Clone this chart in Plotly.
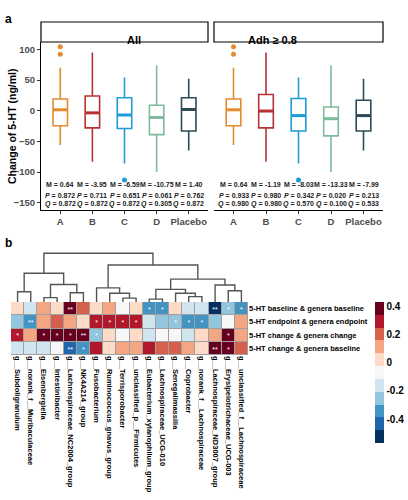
import plotly.graph_objects as go

# ---------------- Panel a data ----------------
groups = ["A", "B", "C", "D", "Placebo"]
box_colors = ["#E58A2E", "#B83235", "#1F9BD7", "#7DBB9C", "#2D4A57"]

all_upper = [70, 95, 54, 74, 52]
all_q3 = [19, 24, 21, 9, 21]
all_median = [1.5, -3.5, -7, -11, 2]
all_q1 = [-24.5, -28, -29, -39, -33]
all_lower = [-56, -83, -86, -100, -65]
all_outliers = [[104, 92], [], [-113], [], []]
all_M = [0.64, -3.95, -6.59, -10.75, 1.40]
all_P = [0.872, 0.711, 0.651, 0.061, 0.762]
all_Q = [0.872, 0.872, 0.872, 0.305, 0.872]

adh_upper = [70, 95, 54, 74, 52]
adh_q3 = [19, 26.5, 20, 6, 17]
adh_median = [1.5, -0.5, -8, -13, -8]
adh_q1 = [-24.5, -28, -33, -41, -33]
adh_lower = [-56, -83, -86, -100, -65]
adh_outliers = [[104, 92], [], [-113], [], []]
adh_M = [0.64, -1.19, -8.03, -13.33, -7.99]
adh_P = [0.933, 0.980, 0.342, 0.020, 0.213]
adh_Q = [0.980, 0.980, 0.570, 0.100, 0.533]

y_ticks = [-150, -100, -50, 0, 50, 100]

# ---------------- Panel b data ----------------
genera = [
    "g__Subdoligranulum", "g__norank_f__Muribaculaceae", "g__Eisenbergiella",
    "g__Intestinibacter", "g__Lachnospiraceae_NC2004_group", "g__NK4A214_group",
    "g__Fusobacterium", "g__Ruminococcus_gnavus_group", "g__Terrisporobacter",
    "g__unclassified_p__Firmicutes", "g__Eubacterium_xylanophilum_group",
    "g__Lachnospiraceae_UCG-010", "g__Senegalimassilia", "g__Coprobacter",
    "g__norank_f__Lachnospiraceae", "g__Lachnospiraceae_ND3007_group",
    "g__Erysipelotrichaceae_UCG-003", "g__unclassified_f__Lachnospiraceae",
]
row_names = [
    "5-HT baseline & genera baseline",
    "5-HT endpoint & genera endpoint",
    "5-HT change & genera change",
    "5-HT change & genera baseline",
]
corr = [
    [0.02, -0.16, 0.11, 0.03, 0.39, 0.21, 0.02, 0.12, -0.07, 0.03, -0.34, -0.33, 0.02, -0.15, -0.16, -0.52, -0.25, -0.34],
    [-0.25, -0.35, 0.11, 0.20, 0.11, 0.03, 0.29, 0.30, 0.29, 0.30, -0.16, -0.25, -0.26, -0.34, -0.35, -0.25, -0.07, 0.11],
    [0.29, 0.12, 0.39, 0.38, 0.39, 0.40, -0.25, 0.02, -0.07, 0.03, -0.16, -0.07, -0.06, -0.16, 0.03, 0.12, 0.39, 0.11],
    [-0.15, -0.16, -0.16, -0.07, -0.43, -0.34, 0.29, 0.03, 0.11, 0.12, 0.30, 0.20, 0.21, 0.11, 0.02, 0.38, 0.39, 0.20],
]
signif = [
    ["", "", "", "", "**", "", "", "", "", "", "*", "*", "", "", "", "**", "*", "*"],
    ["", "**", "", "", "", "", "*", "*", "*", "*", "", "", "*", "*", "*", "", "", ""],
    ["*", "", "*", "*", "*", "**", "*", "", "", "", "", "", "", "", "", "", "*", ""],
    ["", "", "", "", "**", "*", "", "", "", "", "", "", "", "", "", "**", "*", ""],
]
# hierarchical clustering of columns: (left node, right node, height)
dendro_merges = [
    (0, 1, 0.21), (2, 3, 0.09), (4, 5, 0.19), (19, 20, 0.36), (18, 21, 0.59),
    (8, 9, 0.08), (7, 23, 0.18), (6, 24, 0.29),
    (10, 11, 0.06), (13, 14, 0.11), (12, 27, 0.18), (26, 28, 0.26),
    (16, 17, 0.23), (15, 30, 0.35), (29, 31, 0.47), (25, 32, 0.76), (22, 33, 1.00),
]
band_colors = ["#053061", "#2166AC", "#4393C3", "#92C5DE", "#D1E5F0", "#F7F7F7",
               "#FDDBC7", "#F4A582", "#D6604D", "#B2182B", "#67001F"]
z_min, z_max = -0.57, 0.43
cbar_ticks = [-0.4, -0.2, 0, 0.2, 0.4]

FONT = "Arial, Liberation Sans, sans-serif"
W, H = 408, 500


def px(x):
    return x / W


def py(y):
    return 1 - y / H


fig = go.Figure()

# ---------------- Panel a: box plots ----------------
panels = [
    ("x", "y", all_upper, all_q3, all_median, all_q1, all_lower, all_outliers, all_M, all_P, all_Q),
    ("x2", "y2", adh_upper, adh_q3, adh_median, adh_q1, adh_lower, adh_outliers, adh_M, adh_P, adh_Q),
]
BW = 0.45
annotations = []
for xa, ya, up, q3, med, q1, lo, outl, M, P, Q in panels:
    for i, g in enumerate(groups):
        c = box_colors[i]
        fig.add_trace(go.Box(
            x=[i], q1=[q1[i]], median=[med[i]], q3=[q3[i]],
            lowerfence=[lo[i]], upperfence=[up[i]],
            width=BW, whiskerwidth=0, fillcolor="white",
            line=dict(color=c, width=1.6), boxpoints=False,
            xaxis=xa, yaxis=ya, showlegend=False, hoverinfo="skip",
        ))
        fig.add_trace(go.Scatter(
            x=[i - BW / 2, i + BW / 2], y=[med[i], med[i]], mode="lines",
            line=dict(color=c, width=3), xaxis=xa, yaxis=ya,
            showlegend=False, hoverinfo="skip",
        ))
        if outl[i]:
            fig.add_trace(go.Scatter(
                x=[i] * len(outl[i]), y=outl[i], mode="markers",
                marker=dict(color=c, size=5), xaxis=xa, yaxis=ya,
                showlegend=False, hoverinfo="skip",
            ))
        for txt, yy in [(f"<b>M = {M[i]:.2f}</b>", -119.5),
                        (f"<b><i>P</i> = {P[i]:.3f}</b>", -137.5),
                        (f"<b><i>Q</i> = {Q[i]:.3f}</b>", -152)]:
            annotations.append(dict(
                x=i, y=yy, xref=xa, yref=ya, text=txt, showarrow=False,
                font=dict(family=FONT, size=7, color="#222222"),
                xanchor="center", yanchor="middle",
            ))

# ---------------- Panel b: dendrogram ----------------
n = len(genera)
pos = {i: (float(i), 0.0) for i in range(n)}
dx, dy = [], []
for k, (a, b, h) in enumerate(dendro_merges):
    xa_, ha = pos[a]
    xb_, hb = pos[b]
    dx += [xa_, xa_, xb_, xb_, None]
    dy += [ha, h, h, hb, None]
    pos[n + k] = ((xa_ + xb_) / 2, h)
fig.add_trace(go.Scatter(
    x=dx, y=dy, mode="lines", line=dict(color="#555555", width=1.4),
    xaxis="x4", yaxis="y4", showlegend=False, hoverinfo="skip",
))

# ---------------- Panel b: heatmap ----------------
nb = len(band_colors)
cscale = []
for k, c in enumerate(band_colors):
    cscale.append([k / nb, c])
    cscale.append([(k + 1) / nb, c])
fig.add_trace(go.Heatmap(
    z=corr, x=list(range(n)), y=list(range(len(row_names))),
    zmin=z_min, zmax=z_max, colorscale=cscale, xgap=1, ygap=1,
    xaxis="x3", yaxis="y3", hoverinfo="skip",
    colorbar=dict(
        x=px(375), xanchor="left", y=py(302), yanchor="top",
        len=141 / H, lenmode="fraction", thickness=8.5,
        tickvals=cbar_ticks, ticktext=[f"{v:g}" for v in cbar_ticks],
        ticks="", outlinewidth=0, xpad=0, ypad=0,
        tickfont=dict(family=FONT, size=10, color="black", weight="bold"),
    ),
))
sx, sy, st = [], [], []
for r, row in enumerate(signif):
    for cidx, s in enumerate(row):
        if s:
            sx.append(cidx)
            sy.append(r + 0.12)
            st.append(s)
fig.add_trace(go.Scatter(
    x=sx, y=sy, text=st, mode="text", textposition="middle center",
    textfont=dict(family=FONT, size=7, color="white"),
    xaxis="x3", yaxis="y3", showlegend=False, hoverinfo="skip",
))

shapes = [
    dict(type="rect", xref="x3", yref="y3", x0=-0.5, x1=n - 0.5, y0=-0.5,
         y1=len(row_names) - 0.5, fillcolor="#A0A0A0",
         line=dict(color="#A0A0A0", width=1), layer="below"),
    dict(type="rect", xref="paper", yref="paper", x0=px(41), x1=px(208),
         y0=py(42), y1=py(22), fillcolor="white", line=dict(color="black", width=1.2)),
    dict(type="rect", xref="paper", yref="paper", x0=px(214), x1=px(383),
         y0=py(42), y1=py(22), fillcolor="white", line=dict(color="black", width=1.2)),
]
annotations += [
    dict(x=(px(41) + px(208)) / 2, y=py(32), xref="paper", yref="paper", text="<b>All</b>",
         showarrow=False, font=dict(family=FONT, size=11, color="black")),
    dict(x=(px(214) + px(383)) / 2, y=py(32), xref="paper", yref="paper", text="<b>Adh ≥ 0.8</b>",
         showarrow=False, font=dict(family=FONT, size=11, color="black")),
    dict(x=px(3), y=py(10), xref="paper", yref="paper", text="<b>a</b>", xanchor="left",
         showarrow=False, font=dict(family=FONT, size=12, color="black")),
    dict(x=px(3), y=py(243), xref="paper", yref="paper", text="<b>b</b>", xanchor="left",
         showarrow=False, font=dict(family=FONT, size=12, color="black")),
    dict(x=px(12), y=py(126), xref="paper", yref="paper",
         text="<b>Change of 5-HT (ng/ml)</b>", textangle=-90, showarrow=False,
         xanchor="center", yanchor="middle",
         font=dict(family=FONT, size=10.5, color="black")),
]

tick_font = dict(family=FONT, size=9.5, color="#4D4D4D", weight="bold")
cat_axis = dict(range=[-0.6, 4.6], tickvals=list(range(len(groups))), ticktext=groups,
                showline=True, linecolor="black", linewidth=1, ticks="outside",
                ticklen=3, tickcolor="#333333", tickfont=tick_font,
                showgrid=False, zeroline=False, automargin=False)
y_range = [-161.7, 111.9]

fig.update_layout(
    width=W, height=H, margin=dict(l=0, r=0, t=0, b=0, autoexpand=False),
    paper_bgcolor="white", plot_bgcolor="white", showlegend=False,
    font=dict(family=FONT),
    xaxis=dict(domain=[px(41), px(208)], anchor="y", **cat_axis),
    yaxis=dict(domain=[py(210), py(42)], anchor="x", range=y_range, tickvals=y_ticks,
               showline=True, linecolor="black", linewidth=1, ticks="outside", ticklen=3,
               tickcolor="#333333", tickfont=tick_font, showgrid=False, zeroline=False,
               automargin=False),
    xaxis2=dict(domain=[px(214), px(383)], anchor="y2", **cat_axis),
    yaxis2=dict(domain=[py(210), py(42)], anchor="x2", range=y_range, showline=False,
                showticklabels=False, ticks="", showgrid=False, zeroline=False,
                automargin=False),
    xaxis3=dict(domain=[px(11), px(248)], anchor="y3", range=[-0.5, n - 0.5],
                tickvals=list(range(n)), ticktext=genera, tickangle=90, ticks="",
                showgrid=False, zeroline=False, showline=False, automargin=False,
                tickfont=dict(family=FONT, size=7.5, color="black", weight="bold")),
    yaxis3=dict(domain=[py(355), py(302)], anchor="x3", range=[len(row_names) - 0.5, -0.5],
                side="right", tickvals=list(range(len(row_names))), ticktext=row_names,
                ticks="", showgrid=False, zeroline=False, showline=False, automargin=False,
                tickfont=dict(family=FONT, size=7.5, color="black", weight="bold")),
    xaxis4=dict(domain=[px(11), px(248)], anchor="y4", range=[-0.5, n - 0.5], visible=False),
    yaxis4=dict(domain=[py(302), py(250)], anchor="x4", range=[0, 1.068], visible=False),
    shapes=shapes, annotations=annotations,
)

fig.write_html("out.html", config={"displayModeBar": False},
               post_script="document.body.style.margin='0px';document.body.style.overflow='hidden';")
